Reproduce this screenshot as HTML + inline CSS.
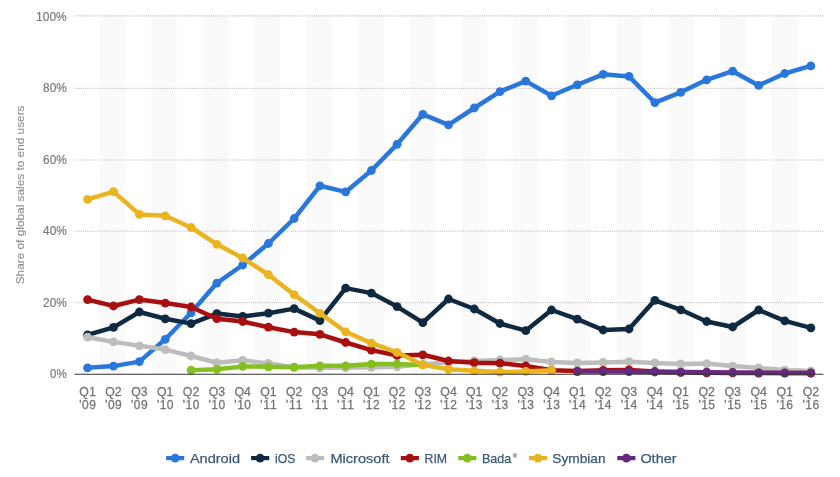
<!DOCTYPE html>
<html><head><meta charset="utf-8"><style>
html,body{margin:0;padding:0;background:#fff;width:840px;height:477px;overflow:hidden}
svg{display:block;will-change:transform}
text{font-family:"Liberation Sans",sans-serif}
.yl{font-size:12.2px;fill:#7a7a7a;stroke:#7a7a7a;stroke-width:0.2px}
.xl{font-size:12px;fill:#767676;stroke:#767676;stroke-width:0.3px}
.yt{font-size:11.6px;fill:#8c8c8c;stroke:#8c8c8c;stroke-width:0.1px}
.lg{font-size:13.6px;fill:#3a5876;stroke:#3a5876;stroke-width:0.25px}
</style></head><body><svg width="840" height="477" viewBox="0 0 840 477"><rect x="99.52" y="16" width="25.85" height="358" fill="#fafafa"/><rect x="151.22" y="16" width="25.85" height="358" fill="#fafafa"/><rect x="202.92" y="16" width="25.85" height="358" fill="#fafafa"/><rect x="254.62" y="16" width="25.85" height="358" fill="#fafafa"/><rect x="306.32" y="16" width="25.85" height="358" fill="#fafafa"/><rect x="358.02" y="16" width="25.85" height="358" fill="#fafafa"/><rect x="409.72" y="16" width="25.85" height="358" fill="#fafafa"/><rect x="461.42" y="16" width="25.85" height="358" fill="#fafafa"/><rect x="513.12" y="16" width="25.85" height="358" fill="#fafafa"/><rect x="564.82" y="16" width="25.85" height="358" fill="#fafafa"/><rect x="616.52" y="16" width="25.85" height="358" fill="#fafafa"/><rect x="668.22" y="16" width="25.85" height="358" fill="#fafafa"/><rect x="719.92" y="16" width="25.85" height="358" fill="#fafafa"/><rect x="771.62" y="16" width="25.85" height="358" fill="#fafafa"/><line x1="74.5" y1="15.9" x2="824" y2="15.9" stroke="#c2c2c2" stroke-width="1.2" stroke-dasharray="1,1.1"/><line x1="74.5" y1="88.4" x2="824" y2="88.4" stroke="#c2c2c2" stroke-width="1.2" stroke-dasharray="1,1.1"/><line x1="74.5" y1="160" x2="824" y2="160" stroke="#c2c2c2" stroke-width="1.2" stroke-dasharray="1,1.1"/><line x1="74.5" y1="231.1" x2="824" y2="231.1" stroke="#c2c2c2" stroke-width="1.2" stroke-dasharray="1,1.1"/><line x1="74.5" y1="302.6" x2="824" y2="302.6" stroke="#c2c2c2" stroke-width="1.2" stroke-dasharray="1,1.1"/><text x="36.10" y="20.85" class="yl" textLength="30.6" lengthAdjust="spacingAndGlyphs">100%</text><text x="43.10" y="92.30" class="yl" textLength="23.6" lengthAdjust="spacingAndGlyphs">80%</text><text x="43.10" y="163.75" class="yl" textLength="23.6" lengthAdjust="spacingAndGlyphs">60%</text><text x="43.10" y="235.20" class="yl" textLength="23.6" lengthAdjust="spacingAndGlyphs">40%</text><text x="43.10" y="306.65" class="yl" textLength="23.6" lengthAdjust="spacingAndGlyphs">20%</text><text x="50.10" y="378.10" class="yl" textLength="16.6" lengthAdjust="spacingAndGlyphs">0%</text><text x="79.37" y="395.6" class="xl" textLength="16.4" lengthAdjust="spacingAndGlyphs">Q1</text><text x="79.27" y="408.5" class="xl" textLength="16.6" lengthAdjust="spacing">'09</text><text x="105.30" y="395.6" class="xl" textLength="16.4" lengthAdjust="spacingAndGlyphs">Q2</text><text x="105.20" y="408.5" class="xl" textLength="16.6" lengthAdjust="spacing">'09</text><text x="131.19" y="395.6" class="xl" textLength="16.4" lengthAdjust="spacingAndGlyphs">Q3</text><text x="131.09" y="408.5" class="xl" textLength="16.6" lengthAdjust="spacing">'09</text><text x="157.05" y="395.6" class="xl" textLength="16.4" lengthAdjust="spacingAndGlyphs">Q1</text><text x="156.95" y="408.5" class="xl" textLength="16.6" lengthAdjust="spacing">'10</text><text x="182.88" y="395.6" class="xl" textLength="16.4" lengthAdjust="spacingAndGlyphs">Q2</text><text x="182.78" y="408.5" class="xl" textLength="16.6" lengthAdjust="spacing">'10</text><text x="208.68" y="395.6" class="xl" textLength="16.4" lengthAdjust="spacingAndGlyphs">Q3</text><text x="208.58" y="408.5" class="xl" textLength="16.6" lengthAdjust="spacing">'10</text><text x="234.47" y="395.6" class="xl" textLength="16.4" lengthAdjust="spacingAndGlyphs">Q4</text><text x="234.37" y="408.5" class="xl" textLength="16.6" lengthAdjust="spacing">'10</text><text x="260.23" y="395.6" class="xl" textLength="16.4" lengthAdjust="spacingAndGlyphs">Q1</text><text x="260.13" y="408.5" class="xl" textLength="16.6" lengthAdjust="spacing">'11</text><text x="285.98" y="395.6" class="xl" textLength="16.4" lengthAdjust="spacingAndGlyphs">Q2</text><text x="285.88" y="408.5" class="xl" textLength="16.6" lengthAdjust="spacing">'11</text><text x="311.72" y="395.6" class="xl" textLength="16.4" lengthAdjust="spacingAndGlyphs">Q3</text><text x="311.62" y="408.5" class="xl" textLength="16.6" lengthAdjust="spacing">'11</text><text x="337.45" y="395.6" class="xl" textLength="16.4" lengthAdjust="spacingAndGlyphs">Q4</text><text x="337.35" y="408.5" class="xl" textLength="16.6" lengthAdjust="spacing">'11</text><text x="363.17" y="395.6" class="xl" textLength="16.4" lengthAdjust="spacingAndGlyphs">Q1</text><text x="363.07" y="408.5" class="xl" textLength="16.6" lengthAdjust="spacing">'12</text><text x="388.89" y="395.6" class="xl" textLength="16.4" lengthAdjust="spacingAndGlyphs">Q2</text><text x="388.79" y="408.5" class="xl" textLength="16.6" lengthAdjust="spacing">'12</text><text x="414.61" y="395.6" class="xl" textLength="16.4" lengthAdjust="spacingAndGlyphs">Q3</text><text x="414.51" y="408.5" class="xl" textLength="16.6" lengthAdjust="spacing">'12</text><text x="440.33" y="395.6" class="xl" textLength="16.4" lengthAdjust="spacingAndGlyphs">Q4</text><text x="440.23" y="408.5" class="xl" textLength="16.6" lengthAdjust="spacing">'12</text><text x="466.06" y="395.6" class="xl" textLength="16.4" lengthAdjust="spacingAndGlyphs">Q1</text><text x="465.96" y="408.5" class="xl" textLength="16.6" lengthAdjust="spacing">'13</text><text x="491.80" y="395.6" class="xl" textLength="16.4" lengthAdjust="spacingAndGlyphs">Q2</text><text x="491.70" y="408.5" class="xl" textLength="16.6" lengthAdjust="spacing">'13</text><text x="517.56" y="395.6" class="xl" textLength="16.4" lengthAdjust="spacingAndGlyphs">Q3</text><text x="517.46" y="408.5" class="xl" textLength="16.6" lengthAdjust="spacing">'13</text><text x="543.33" y="395.6" class="xl" textLength="16.4" lengthAdjust="spacingAndGlyphs">Q4</text><text x="543.23" y="408.5" class="xl" textLength="16.6" lengthAdjust="spacing">'13</text><text x="569.12" y="395.6" class="xl" textLength="16.4" lengthAdjust="spacingAndGlyphs">Q1</text><text x="569.02" y="408.5" class="xl" textLength="16.6" lengthAdjust="spacing">'14</text><text x="594.93" y="395.6" class="xl" textLength="16.4" lengthAdjust="spacingAndGlyphs">Q2</text><text x="594.83" y="408.5" class="xl" textLength="16.6" lengthAdjust="spacing">'14</text><text x="620.78" y="395.6" class="xl" textLength="16.4" lengthAdjust="spacingAndGlyphs">Q3</text><text x="620.68" y="408.5" class="xl" textLength="16.6" lengthAdjust="spacing">'14</text><text x="646.65" y="395.6" class="xl" textLength="16.4" lengthAdjust="spacingAndGlyphs">Q4</text><text x="646.55" y="408.5" class="xl" textLength="16.6" lengthAdjust="spacing">'14</text><text x="672.55" y="395.6" class="xl" textLength="16.4" lengthAdjust="spacingAndGlyphs">Q1</text><text x="672.45" y="408.5" class="xl" textLength="16.6" lengthAdjust="spacing">'15</text><text x="698.49" y="395.6" class="xl" textLength="16.4" lengthAdjust="spacingAndGlyphs">Q2</text><text x="698.39" y="408.5" class="xl" textLength="16.6" lengthAdjust="spacing">'15</text><text x="724.47" y="395.6" class="xl" textLength="16.4" lengthAdjust="spacingAndGlyphs">Q3</text><text x="724.37" y="408.5" class="xl" textLength="16.6" lengthAdjust="spacing">'15</text><text x="750.49" y="395.6" class="xl" textLength="16.4" lengthAdjust="spacingAndGlyphs">Q4</text><text x="750.39" y="408.5" class="xl" textLength="16.6" lengthAdjust="spacing">'15</text><text x="776.55" y="395.6" class="xl" textLength="16.4" lengthAdjust="spacingAndGlyphs">Q1</text><text x="776.45" y="408.5" class="xl" textLength="16.6" lengthAdjust="spacing">'16</text><text x="802.67" y="395.6" class="xl" textLength="16.4" lengthAdjust="spacingAndGlyphs">Q2</text><text x="802.57" y="408.5" class="xl" textLength="16.6" lengthAdjust="spacing">'16</text><text transform="translate(24.2 194.9) rotate(-90)" text-anchor="middle" class="yt" textLength="178.8" lengthAdjust="spacingAndGlyphs">Share of global sales to end users</text><g><path d="M87.57 367.80 L113.50 366.10 L139.39 361.60 L165.25 339.30 L191.08 312.80 L216.88 283.10 L242.67 265.00 L268.43 243.50 L294.18 218.50 L319.92 185.80 L345.65 191.90 L371.37 170.50 L397.09 144.30 L422.81 114.30 L448.53 124.80 L474.26 108.00 L500.00 91.60 L525.76 81.10 L551.53 95.80 L577.32 84.80 L603.13 74.30 L628.98 76.40 L654.85 102.60 L680.75 92.30 L706.69 79.80 L732.67 71.20 L758.69 85.40 L784.75 73.50 L810.87 65.90" fill="none" stroke="#2a77dc" stroke-width="4.5" stroke-linejoin="round" stroke-linecap="round"/><circle cx="87.57" cy="367.80" r="4.4" fill="#2a77dc"/><circle cx="113.50" cy="366.10" r="4.4" fill="#2a77dc"/><circle cx="139.39" cy="361.60" r="4.4" fill="#2a77dc"/><circle cx="165.25" cy="339.30" r="4.4" fill="#2a77dc"/><circle cx="191.08" cy="312.80" r="4.4" fill="#2a77dc"/><circle cx="216.88" cy="283.10" r="4.4" fill="#2a77dc"/><circle cx="242.67" cy="265.00" r="4.4" fill="#2a77dc"/><circle cx="268.43" cy="243.50" r="4.4" fill="#2a77dc"/><circle cx="294.18" cy="218.50" r="4.4" fill="#2a77dc"/><circle cx="319.92" cy="185.80" r="4.4" fill="#2a77dc"/><circle cx="345.65" cy="191.90" r="4.4" fill="#2a77dc"/><circle cx="371.37" cy="170.50" r="4.4" fill="#2a77dc"/><circle cx="397.09" cy="144.30" r="4.4" fill="#2a77dc"/><circle cx="422.81" cy="114.30" r="4.4" fill="#2a77dc"/><circle cx="448.53" cy="124.80" r="4.4" fill="#2a77dc"/><circle cx="474.26" cy="108.00" r="4.4" fill="#2a77dc"/><circle cx="500.00" cy="91.60" r="4.4" fill="#2a77dc"/><circle cx="525.76" cy="81.10" r="4.4" fill="#2a77dc"/><circle cx="551.53" cy="95.80" r="4.4" fill="#2a77dc"/><circle cx="577.32" cy="84.80" r="4.4" fill="#2a77dc"/><circle cx="603.13" cy="74.30" r="4.4" fill="#2a77dc"/><circle cx="628.98" cy="76.40" r="4.4" fill="#2a77dc"/><circle cx="654.85" cy="102.60" r="4.4" fill="#2a77dc"/><circle cx="680.75" cy="92.30" r="4.4" fill="#2a77dc"/><circle cx="706.69" cy="79.80" r="4.4" fill="#2a77dc"/><circle cx="732.67" cy="71.20" r="4.4" fill="#2a77dc"/><circle cx="758.69" cy="85.40" r="4.4" fill="#2a77dc"/><circle cx="784.75" cy="73.50" r="4.4" fill="#2a77dc"/><circle cx="810.87" cy="65.90" r="4.4" fill="#2a77dc"/></g><g><path d="M87.57 334.90 L113.50 327.40 L139.39 312.00 L165.25 318.80 L191.08 323.60 L216.88 313.60 L242.67 316.40 L268.43 313.20 L294.18 308.60 L319.92 320.60 L345.65 288.10 L371.37 293.10 L397.09 306.60 L422.81 322.60 L448.53 299.00 L474.26 309.00 L500.00 323.50 L525.76 330.70 L551.53 310.00 L577.32 319.10 L603.13 330.00 L628.98 329.00 L654.85 300.30 L680.75 309.80 L706.69 321.50 L732.67 327.00 L758.69 310.00 L784.75 320.80 L810.87 327.80" fill="none" stroke="#0f2a40" stroke-width="4.5" stroke-linejoin="round" stroke-linecap="round"/><circle cx="87.57" cy="334.90" r="4.4" fill="#0f2a40"/><circle cx="113.50" cy="327.40" r="4.4" fill="#0f2a40"/><circle cx="139.39" cy="312.00" r="4.4" fill="#0f2a40"/><circle cx="165.25" cy="318.80" r="4.4" fill="#0f2a40"/><circle cx="191.08" cy="323.60" r="4.4" fill="#0f2a40"/><circle cx="216.88" cy="313.60" r="4.4" fill="#0f2a40"/><circle cx="242.67" cy="316.40" r="4.4" fill="#0f2a40"/><circle cx="268.43" cy="313.20" r="4.4" fill="#0f2a40"/><circle cx="294.18" cy="308.60" r="4.4" fill="#0f2a40"/><circle cx="319.92" cy="320.60" r="4.4" fill="#0f2a40"/><circle cx="345.65" cy="288.10" r="4.4" fill="#0f2a40"/><circle cx="371.37" cy="293.10" r="4.4" fill="#0f2a40"/><circle cx="397.09" cy="306.60" r="4.4" fill="#0f2a40"/><circle cx="422.81" cy="322.60" r="4.4" fill="#0f2a40"/><circle cx="448.53" cy="299.00" r="4.4" fill="#0f2a40"/><circle cx="474.26" cy="309.00" r="4.4" fill="#0f2a40"/><circle cx="500.00" cy="323.50" r="4.4" fill="#0f2a40"/><circle cx="525.76" cy="330.70" r="4.4" fill="#0f2a40"/><circle cx="551.53" cy="310.00" r="4.4" fill="#0f2a40"/><circle cx="577.32" cy="319.10" r="4.4" fill="#0f2a40"/><circle cx="603.13" cy="330.00" r="4.4" fill="#0f2a40"/><circle cx="628.98" cy="329.00" r="4.4" fill="#0f2a40"/><circle cx="654.85" cy="300.30" r="4.4" fill="#0f2a40"/><circle cx="680.75" cy="309.80" r="4.4" fill="#0f2a40"/><circle cx="706.69" cy="321.50" r="4.4" fill="#0f2a40"/><circle cx="732.67" cy="327.00" r="4.4" fill="#0f2a40"/><circle cx="758.69" cy="310.00" r="4.4" fill="#0f2a40"/><circle cx="784.75" cy="320.80" r="4.4" fill="#0f2a40"/><circle cx="810.87" cy="327.80" r="4.4" fill="#0f2a40"/></g><g><path d="M87.57 337.20 L113.50 341.90 L139.39 345.80 L165.25 349.60 L191.08 356.00 L216.88 362.80 L242.67 360.30 L268.43 363.40 L294.18 367.30 L319.92 367.80 L345.65 367.80 L371.37 367.30 L397.09 366.80 L422.81 364.30 L448.53 362.30 L474.26 361.00 L500.00 360.00 L525.76 359.20 L551.53 362.00 L577.32 362.90 L603.13 362.40 L628.98 361.70 L654.85 362.90 L680.75 363.90 L706.69 363.60 L732.67 366.10 L758.69 367.90 L784.75 370.10 L810.87 371.10" fill="none" stroke="#bdbdbd" stroke-width="4.5" stroke-linejoin="round" stroke-linecap="round"/><circle cx="87.57" cy="337.20" r="4.4" fill="#bdbdbd"/><circle cx="113.50" cy="341.90" r="4.4" fill="#bdbdbd"/><circle cx="139.39" cy="345.80" r="4.4" fill="#bdbdbd"/><circle cx="165.25" cy="349.60" r="4.4" fill="#bdbdbd"/><circle cx="191.08" cy="356.00" r="4.4" fill="#bdbdbd"/><circle cx="216.88" cy="362.80" r="4.4" fill="#bdbdbd"/><circle cx="242.67" cy="360.30" r="4.4" fill="#bdbdbd"/><circle cx="268.43" cy="363.40" r="4.4" fill="#bdbdbd"/><circle cx="294.18" cy="367.30" r="4.4" fill="#bdbdbd"/><circle cx="319.92" cy="367.80" r="4.4" fill="#bdbdbd"/><circle cx="345.65" cy="367.80" r="4.4" fill="#bdbdbd"/><circle cx="371.37" cy="367.30" r="4.4" fill="#bdbdbd"/><circle cx="397.09" cy="366.80" r="4.4" fill="#bdbdbd"/><circle cx="422.81" cy="364.30" r="4.4" fill="#bdbdbd"/><circle cx="448.53" cy="362.30" r="4.4" fill="#bdbdbd"/><circle cx="474.26" cy="361.00" r="4.4" fill="#bdbdbd"/><circle cx="500.00" cy="360.00" r="4.4" fill="#bdbdbd"/><circle cx="525.76" cy="359.20" r="4.4" fill="#bdbdbd"/><circle cx="551.53" cy="362.00" r="4.4" fill="#bdbdbd"/><circle cx="577.32" cy="362.90" r="4.4" fill="#bdbdbd"/><circle cx="603.13" cy="362.40" r="4.4" fill="#bdbdbd"/><circle cx="628.98" cy="361.70" r="4.4" fill="#bdbdbd"/><circle cx="654.85" cy="362.90" r="4.4" fill="#bdbdbd"/><circle cx="680.75" cy="363.90" r="4.4" fill="#bdbdbd"/><circle cx="706.69" cy="363.60" r="4.4" fill="#bdbdbd"/><circle cx="732.67" cy="366.10" r="4.4" fill="#bdbdbd"/><circle cx="758.69" cy="367.90" r="4.4" fill="#bdbdbd"/><circle cx="784.75" cy="370.10" r="4.4" fill="#bdbdbd"/><circle cx="810.87" cy="371.10" r="4.4" fill="#bdbdbd"/></g><g><path d="M87.57 299.60 L113.50 306.00 L139.39 299.60 L165.25 303.10 L191.08 307.00 L216.88 318.70 L242.67 321.50 L268.43 327.20 L294.18 332.10 L319.92 334.30 L345.65 342.50 L371.37 350.10 L397.09 355.50 L422.81 354.80 L448.53 361.00 L474.26 362.70 L500.00 363.20 L525.76 366.00 L551.53 370.30 L577.32 371.10 L603.13 370.30 L628.98 369.90 L654.85 371.50 L680.75 372.30 L706.69 372.80 L732.67 373.00 L758.69 373.10 L784.75 373.10 L810.87 373.10" fill="none" stroke="#aa0f10" stroke-width="4.5" stroke-linejoin="round" stroke-linecap="round"/><circle cx="87.57" cy="299.60" r="4.4" fill="#aa0f10"/><circle cx="113.50" cy="306.00" r="4.4" fill="#aa0f10"/><circle cx="139.39" cy="299.60" r="4.4" fill="#aa0f10"/><circle cx="165.25" cy="303.10" r="4.4" fill="#aa0f10"/><circle cx="191.08" cy="307.00" r="4.4" fill="#aa0f10"/><circle cx="216.88" cy="318.70" r="4.4" fill="#aa0f10"/><circle cx="242.67" cy="321.50" r="4.4" fill="#aa0f10"/><circle cx="268.43" cy="327.20" r="4.4" fill="#aa0f10"/><circle cx="294.18" cy="332.10" r="4.4" fill="#aa0f10"/><circle cx="319.92" cy="334.30" r="4.4" fill="#aa0f10"/><circle cx="345.65" cy="342.50" r="4.4" fill="#aa0f10"/><circle cx="371.37" cy="350.10" r="4.4" fill="#aa0f10"/><circle cx="397.09" cy="355.50" r="4.4" fill="#aa0f10"/><circle cx="422.81" cy="354.80" r="4.4" fill="#aa0f10"/><circle cx="448.53" cy="361.00" r="4.4" fill="#aa0f10"/><circle cx="474.26" cy="362.70" r="4.4" fill="#aa0f10"/><circle cx="500.00" cy="363.20" r="4.4" fill="#aa0f10"/><circle cx="525.76" cy="366.00" r="4.4" fill="#aa0f10"/><circle cx="551.53" cy="370.30" r="4.4" fill="#aa0f10"/><circle cx="577.32" cy="371.10" r="4.4" fill="#aa0f10"/><circle cx="603.13" cy="370.30" r="4.4" fill="#aa0f10"/><circle cx="628.98" cy="369.90" r="4.4" fill="#aa0f10"/><circle cx="654.85" cy="371.50" r="4.4" fill="#aa0f10"/><circle cx="680.75" cy="372.30" r="4.4" fill="#aa0f10"/><circle cx="706.69" cy="372.80" r="4.4" fill="#aa0f10"/><circle cx="732.67" cy="373.00" r="4.4" fill="#aa0f10"/><circle cx="758.69" cy="373.10" r="4.4" fill="#aa0f10"/><circle cx="784.75" cy="373.10" r="4.4" fill="#aa0f10"/><circle cx="810.87" cy="373.10" r="4.4" fill="#aa0f10"/></g><g><path d="M191.08 370.20 L216.88 369.30 L242.67 366.40 L268.43 366.80 L294.18 367.20 L319.92 365.80 L345.65 365.80 L371.37 364.10 L397.09 364.00 L422.81 364.90" fill="none" stroke="#86bf21" stroke-width="4.5" stroke-linejoin="round" stroke-linecap="round"/><circle cx="191.08" cy="370.20" r="4.4" fill="#86bf21"/><circle cx="216.88" cy="369.30" r="4.4" fill="#86bf21"/><circle cx="242.67" cy="366.40" r="4.4" fill="#86bf21"/><circle cx="268.43" cy="366.80" r="4.4" fill="#86bf21"/><circle cx="294.18" cy="367.20" r="4.4" fill="#86bf21"/><circle cx="319.92" cy="365.80" r="4.4" fill="#86bf21"/><circle cx="345.65" cy="365.80" r="4.4" fill="#86bf21"/><circle cx="371.37" cy="364.10" r="4.4" fill="#86bf21"/><circle cx="397.09" cy="364.00" r="4.4" fill="#86bf21"/><circle cx="422.81" cy="364.90" r="4.4" fill="#86bf21"/></g><g><path d="M87.57 199.40 L113.50 191.60 L139.39 214.40 L165.25 215.80 L191.08 227.50 L216.88 244.30 L242.67 258.00 L268.43 274.70 L294.18 294.60 L319.92 313.30 L345.65 331.80 L371.37 343.10 L397.09 352.30 L422.81 364.90 L448.53 369.30 L474.26 370.80 L500.00 372.10 L525.76 371.40 L551.53 370.30" fill="none" stroke="#e9b420" stroke-width="4.5" stroke-linejoin="round" stroke-linecap="round"/><circle cx="87.57" cy="199.40" r="4.4" fill="#e9b420"/><circle cx="113.50" cy="191.60" r="4.4" fill="#e9b420"/><circle cx="139.39" cy="214.40" r="4.4" fill="#e9b420"/><circle cx="165.25" cy="215.80" r="4.4" fill="#e9b420"/><circle cx="191.08" cy="227.50" r="4.4" fill="#e9b420"/><circle cx="216.88" cy="244.30" r="4.4" fill="#e9b420"/><circle cx="242.67" cy="258.00" r="4.4" fill="#e9b420"/><circle cx="268.43" cy="274.70" r="4.4" fill="#e9b420"/><circle cx="294.18" cy="294.60" r="4.4" fill="#e9b420"/><circle cx="319.92" cy="313.30" r="4.4" fill="#e9b420"/><circle cx="345.65" cy="331.80" r="4.4" fill="#e9b420"/><circle cx="371.37" cy="343.10" r="4.4" fill="#e9b420"/><circle cx="397.09" cy="352.30" r="4.4" fill="#e9b420"/><circle cx="422.81" cy="364.90" r="4.4" fill="#e9b420"/><circle cx="448.53" cy="369.30" r="4.4" fill="#e9b420"/><circle cx="474.26" cy="370.80" r="4.4" fill="#e9b420"/><circle cx="500.00" cy="372.10" r="4.4" fill="#e9b420"/><circle cx="525.76" cy="371.40" r="4.4" fill="#e9b420"/><circle cx="551.53" cy="370.30" r="4.4" fill="#e9b420"/></g><g><path d="M577.32 371.60 L603.13 371.60 L628.98 371.60 L654.85 372.00 L680.75 372.10 L706.69 372.20 L732.67 372.50 L758.69 372.80 L784.75 372.90 L810.87 373.00" fill="none" stroke="#642a80" stroke-width="4.5" stroke-linejoin="round" stroke-linecap="round"/><circle cx="577.32" cy="371.60" r="4.4" fill="#642a80"/><circle cx="603.13" cy="371.60" r="4.4" fill="#642a80"/><circle cx="628.98" cy="371.60" r="4.4" fill="#642a80"/><circle cx="654.85" cy="372.00" r="4.4" fill="#642a80"/><circle cx="680.75" cy="372.10" r="4.4" fill="#642a80"/><circle cx="706.69" cy="372.20" r="4.4" fill="#642a80"/><circle cx="732.67" cy="372.50" r="4.4" fill="#642a80"/><circle cx="758.69" cy="372.80" r="4.4" fill="#642a80"/><circle cx="784.75" cy="372.90" r="4.4" fill="#642a80"/><circle cx="810.87" cy="373.00" r="4.4" fill="#642a80"/></g><line x1="74.5" y1="374.2" x2="823.5" y2="374.2" stroke="#333" stroke-width="1.1"/><rect x="166.1" y="456" width="18.1" height="4.2" fill="#2a77dc"/><circle cx="175.2" cy="458.2" r="4.4" fill="#2a77dc"/><text x="189.9" y="462.8" class="lg" textLength="50.1" lengthAdjust="spacingAndGlyphs">Android</text><rect x="251.1" y="456" width="18.1" height="4.2" fill="#0f2a40"/><circle cx="260.1" cy="458.2" r="4.4" fill="#0f2a40"/><text x="275.1" y="462.8" class="lg" textLength="20.4" lengthAdjust="spacingAndGlyphs">iOS</text><rect x="306.1" y="456" width="18.1" height="4.2" fill="#bdbdbd"/><circle cx="315.1" cy="458.2" r="4.4" fill="#bdbdbd"/><text x="330.4" y="462.8" class="lg" textLength="59.1" lengthAdjust="spacingAndGlyphs">Microsoft</text><rect x="400.8" y="456" width="18.1" height="4.2" fill="#aa0f10"/><circle cx="409.8" cy="458.2" r="4.4" fill="#aa0f10"/><text x="424.5" y="462.8" class="lg" textLength="22.6" lengthAdjust="spacingAndGlyphs">RIM</text><rect x="458.3" y="456" width="18.1" height="4.2" fill="#86bf21"/><circle cx="467.3" cy="458.2" r="4.4" fill="#86bf21"/><text x="481.9" y="462.8" class="lg" textLength="29.3" lengthAdjust="spacingAndGlyphs">Bada</text><text x="512.4" y="461.6" class="lg" style="font-size:12.5px;fill:#7d90a6;stroke:#7d90a6;stroke-width:0.3px">*</text><rect x="528.9" y="456" width="18.1" height="4.2" fill="#e9b420"/><circle cx="537.9" cy="458.2" r="4.4" fill="#e9b420"/><text x="552.3" y="462.8" class="lg" textLength="53.3" lengthAdjust="spacingAndGlyphs">Symbian</text><rect x="617.3" y="456" width="18.1" height="4.2" fill="#642a80"/><circle cx="626.4" cy="458.2" r="4.4" fill="#642a80"/><text x="640.4" y="462.8" class="lg" textLength="36.1" lengthAdjust="spacingAndGlyphs">Other</text></svg></body></html>
